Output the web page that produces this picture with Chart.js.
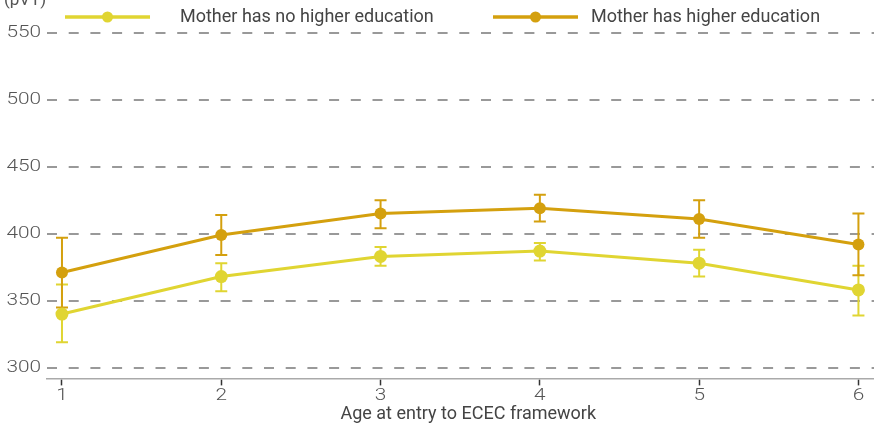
<!DOCTYPE html>
<html>
<head>
<meta charset="utf-8">
<script src="https://cdn.jsdelivr.net/npm/chart.js@4/dist/chart.umd.min.js"></script>
<style>
  html, body { margin: 0; padding: 0; background: #fff; overflow: hidden; }
  #wrap { width: 896px; height: 427px; }
</style>
</head>
<body>
<div id="wrap"><canvas id="c"></canvas></div>
<script>
// Age at entry to the ECEC framework
const ages = [1, 2, 3, 4, 5, 6];
const yTicks = [300, 350, 400, 450, 500, 550];

// Mean scores with confidence interval bounds
const noHigherEdu = [340, 368, 383, 387, 378, 358];
const noHigherEduLow = [319, 357, 376, 380, 368, 339];
const noHigherEduHigh = [362, 378, 390, 393, 388, 376];

const higherEdu = [371, 399, 415, 419, 411, 392];
const higherEduLow = [345, 384, 404, 409, 397, 369];
const higherEduHigh = [397, 414, 425, 429, 425, 415];

const seriesLabels = ['Mother has no higher education', 'Mother has higher education'];
const seriesColors = ['#e0d532', '#d4a00e'];

const FONT = 'Roboto, "Noto Sans", sans-serif';
const TICK_FONT = '300 16px ' + FONT;
const TICK_STRETCH = 1.3;

function toPoints(vals) {
  return ages.map((a, i) => ({ x: a, y: vals[i] }));
}

// Vertical error bars with caps, placed through the chart's scales
const errorBars = {
  id: 'errorBars',
  beforeDatasetsDraw(chart) {
    const { ctx, scales: { x, y } } = chart;
    chart.data.datasets.forEach(ds => {
      ctx.save();
      ctx.strokeStyle = ds.borderColor;
      ctx.lineWidth = 2;
      ages.forEach((a, i) => {
        const px = x.getPixelForValue(a);
        const top = y.getPixelForValue(ds.errHigh[i]);
        const bot = y.getPixelForValue(ds.errLow[i]);
        ctx.beginPath();
        ctx.moveTo(px, top); ctx.lineTo(px, bot);
        ctx.moveTo(px - 6, top); ctx.lineTo(px + 6, top);
        ctx.moveTo(px - 6, bot); ctx.lineTo(px + 6, bot);
        ctx.stroke();
      });
      ctx.restore();
    });
  }
};

// Wide tick labels for both axes
const wideTicks = {
  id: 'wideTicks',
  afterDraw(chart) {
    const { ctx, scales: { x, y } } = chart;
    ctx.save();
    ctx.font = TICK_FONT;
    ctx.fillStyle = '#555';
    ctx.textBaseline = 'middle';
    yTicks.forEach(v => {
      ctx.save();
      ctx.translate(x.left - 6, y.getPixelForValue(v));
      ctx.scale(TICK_STRETCH, 1);
      ctx.textAlign = 'right';
      ctx.fillText(String(v), 0, 0);
      ctx.restore();
    });
    ages.forEach(v => {
      ctx.save();
      ctx.translate(x.getPixelForValue(v), y.bottom + 18);
      ctx.scale(TICK_STRETCH, 1);
      ctx.textAlign = 'center';
      ctx.fillText(String(v), 0, 0);
      ctx.restore();
    });
    ctx.restore();
  }
};

// Legend with a line-and-dot sample, plus the unit label of the value axis
const topLabels = {
  id: 'topLabels',
  afterDraw(chart) {
    const { ctx } = chart;
    ctx.save();
    ctx.font = '17px ' + FONT;
    ctx.fillStyle = '#555';
    ctx.textBaseline = 'alphabetic';
    ctx.fillText('(pVT)', 4, 5);

    const items = [
      { x0: 65, x1: 150, tx: 180 },
      { x0: 493, x1: 578, tx: 591 }
    ];
    const ly = 17;
    ctx.font = '18px ' + FONT;
    items.forEach((it, i) => {
      ctx.strokeStyle = seriesColors[i];
      ctx.lineWidth = 3.5;
      ctx.beginPath();
      ctx.moveTo(it.x0, ly); ctx.lineTo(it.x1, ly);
      ctx.stroke();
      ctx.fillStyle = seriesColors[i];
      ctx.beginPath();
      ctx.arc((it.x0 + it.x1) / 2, ly, 5.5, 0, Math.PI * 2);
      ctx.fill();
      ctx.fillStyle = '#444';
      ctx.textBaseline = 'middle';
      ctx.fillText(seriesLabels[i], it.tx, ly);
    });
    ctx.restore();
  }
};

new Chart(document.getElementById('c'), {
  type: 'line',
  data: {
    datasets: [
      {
        label: seriesLabels[0],
        data: toPoints(noHigherEdu),
        errLow: noHigherEduLow,
        errHigh: noHigherEduHigh,
        borderColor: seriesColors[0],
        backgroundColor: seriesColors[0],
        borderWidth: 3,
        pointRadius: 6.5,
        pointHoverRadius: 6.5,
        pointBorderWidth: 0,
        tension: 0
      },
      {
        label: seriesLabels[1],
        data: toPoints(higherEdu),
        errLow: higherEduLow,
        errHigh: higherEduHigh,
        borderColor: seriesColors[1],
        backgroundColor: seriesColors[1],
        borderWidth: 3,
        pointRadius: 6,
        pointHoverRadius: 6,
        pointBorderWidth: 0,
        tension: 0
      }
    ]
  },
  options: {
    responsive: true,
    maintainAspectRatio: false,
    animation: false,
    layout: { padding: { top: 30, left: 47, right: 0, bottom: 2 } },
    plugins: {
      legend: { display: false },
      tooltip: { enabled: false }
    },
    scales: {
      x: {
        type: 'linear',
        min: 0.906,
        max: 6.195,
        afterBuildTicks(scale) { scale.ticks = ages.map(v => ({ value: v })); },
        ticks: { display: false },
        grid: {
          drawOnChartArea: false,
          drawTicks: true,
          tickLength: 7,
          tickColor: '#333',
          tickWidth: 1.5
        },
        border: { display: true, color: '#aaa', width: 1.5 },
        title: {
          display: true,
          text: 'Age at entry to ECEC framework',
          color: '#444',
          font: { family: FONT, size: 18 },
          padding: { top: 18, bottom: 0 }
        }
      },
      y: {
        min: 292,
        max: 552,
        afterBuildTicks(scale) { scale.ticks = yTicks.map(v => ({ value: v })); },
        ticks: { display: false },
        grid: {
          drawTicks: false,
          color: '#999',
          lineWidth: 2
        },
        border: { display: false, dash: [10, 11.7] }
      }
    }
  },
  plugins: [errorBars, wideTicks, topLabels]
});
</script>
</body>
</html>
